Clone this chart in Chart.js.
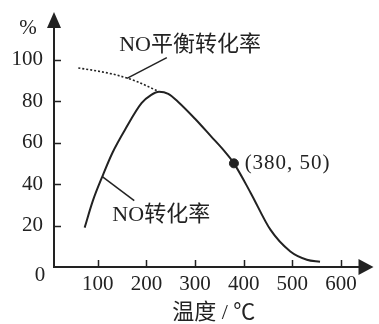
<!DOCTYPE html>
<html>
<head>
<meta charset="utf-8">
<script src="https://cdn.jsdelivr.net/npm/chart.js@4.4.1/dist/chart.umd.min.js"></script>
<style>
  html, body { margin: 0; padding: 0; background: #fff; }
  #wrap { width: 379px; height: 324px; }
</style>
</head>
<body>
<div id="wrap"><canvas id="chart"></canvas></div>
<script>
// Tick labels
const xTicks = [100, 200, 300, 400, 500, 600];
const yTicks = [20, 40, 60, 80, 100];

// NO转化率 (solid)
const convTemp  = [73, 90, 110, 130, 158, 190, 210, 226, 245, 266, 300, 333, 360, 380, 415, 455, 496, 530, 557];
const convValue = [19, 32, 44, 55, 67, 79, 83, 84.5, 83.5, 79.5, 71.5, 63, 56, 50, 35.5, 18, 7.5, 3.5, 2.5];

// NO平衡转化率 (dotted)
const eqTemp  = [60, 100, 140, 180, 222];
const eqValue = [96, 94.5, 92.5, 89.5, 85];

// marked point
const markTemp = [380];
const markValue = [50];

// leader lines from labels to curves
const eqLeaderTemp = [160, 242];
const eqLeaderValue = [91, 101];
const convLeaderTemp = [110, 175];
const convLeaderValue = [43.5, 32];

const ink = '#222';
const serif = '"Liberation Serif", "Noto Sans CJK SC", serif';

const toPoints = (xs, ys) => xs.map((x, i) => ({ x, y: ys[i] }));

// text labels placed in data units
const notes = [
    { text: 'NO平衡转化率', x: 144, y: 107, size: 22, spacing: 0 },
    { text: 'NO转化率', x: 130, y: 25, size: 22, spacing: 0 },
    { text: '(380, 50)', x: 402, y: 50, size: 21, spacing: 1 }
];

const axesPlugin = {
    id: 'axes',
    afterDraw(chart) {
        const { ctx, chartArea: a, scales: { x, y } } = chart;
        ctx.save();
        ctx.strokeStyle = ink;
        ctx.fillStyle = ink;
        ctx.lineWidth = 2;

        // axis lines
        ctx.beginPath();
        ctx.moveTo(a.left, a.top + 12);
        ctx.lineTo(a.left, a.bottom);
        ctx.lineTo(a.right - 12, a.bottom);
        ctx.stroke();

        // arrow heads
        ctx.beginPath();
        ctx.moveTo(a.left, a.top);
        ctx.lineTo(a.left - 7, a.top + 16);
        ctx.lineTo(a.left + 7, a.top + 16);
        ctx.closePath();
        ctx.fill();
        ctx.beginPath();
        ctx.moveTo(a.right, a.bottom);
        ctx.lineTo(a.right - 15, a.bottom - 8);
        ctx.lineTo(a.right - 15, a.bottom + 8);
        ctx.closePath();
        ctx.fill();

        // inner tick marks
        ctx.lineWidth = 1.5;
        ctx.beginPath();
        yTicks.forEach(v => {
            const py = Math.round(y.getPixelForValue(v)) + 0.5;
            ctx.moveTo(a.left, py);
            ctx.lineTo(a.left + 7, py);
        });
        xTicks.forEach(v => {
            const px = Math.round(x.getPixelForValue(v)) + 0.5;
            ctx.moveTo(px, a.bottom);
            ctx.lineTo(px, a.bottom - 7);
        });
        ctx.stroke();

        // origin and unit
        ctx.textAlign = 'center';
        ctx.textBaseline = 'middle';
        ctx.font = `21px ${serif}`;
        ctx.fillText('0', a.left - 14, a.bottom + 8);
        ctx.fillText('%', a.left - 26, a.top + 16);

        // curve labels
        ctx.textAlign = 'left';
        notes.forEach(n => {
            ctx.font = `${n.size}px ${serif}`;
            ctx.letterSpacing = `${n.spacing}px`;
            ctx.fillText(n.text, x.getPixelForValue(n.x), y.getPixelForValue(n.y));
        });
        ctx.restore();
    }
};

const lineStyle = {
    showLine: true,
    pointRadius: 0,
    borderColor: ink,
    backgroundColor: ink,
    cubicInterpolationMode: 'monotone'
};

new Chart(document.getElementById('chart'), {
    type: 'scatter',
    data: {
        datasets: [
            { ...lineStyle, data: toPoints(convTemp, convValue), borderWidth: 2 },
            { ...lineStyle, data: toPoints(eqTemp, eqValue), borderWidth: 1.6, borderDash: [2, 2] },
            { ...lineStyle, data: toPoints(eqLeaderTemp, eqLeaderValue), borderWidth: 1.5, cubicInterpolationMode: 'default', tension: 0 },
            { ...lineStyle, data: toPoints(convLeaderTemp, convLeaderValue), borderWidth: 1.5, cubicInterpolationMode: 'default', tension: 0 },
            { data: toPoints(markTemp, markValue), pointRadius: 4.5, backgroundColor: ink, borderColor: ink, showLine: false }
        ]
    },
    options: {
        responsive: true,
        maintainAspectRatio: false,
        animation: false,
        layout: { padding: { top: 12, right: 2, left: 0, bottom: 0 } },
        plugins: {
            legend: { display: false },
            tooltip: { enabled: false }
        },
        scales: {
            x: {
                type: 'linear',
                min: 10,
                max: 667,
                afterBuildTicks: s => { s.ticks = xTicks.map(v => ({ value: v })); },
                afterFit: s => { s.height = 57; s.paddingLeft = 0; s.paddingRight = 0; },
                grid: { display: false, drawTicks: false },
                border: { display: false },
                ticks: { padding: 5, color: ink, font: { family: serif, size: 21 } },
                title: { display: true, text: '温度 / ℃', color: ink, padding: { top: 0, bottom: -2 }, font: { family: serif, size: 22 } }
            },
            y: {
                min: 0,
                max: 123,
                afterBuildTicks: s => { s.ticks = yTicks.map(v => ({ value: v })); },
                afterFit: s => { s.width = 54; s.paddingTop = 0; s.paddingBottom = 0; },
                grid: { display: false, drawTicks: false },
                border: { display: false },
                ticks: { padding: 11, color: ink, font: { family: serif, size: 21 } }
            }
        }
    },
    plugins: [axesPlugin]
});
</script>
</body>
</html>
